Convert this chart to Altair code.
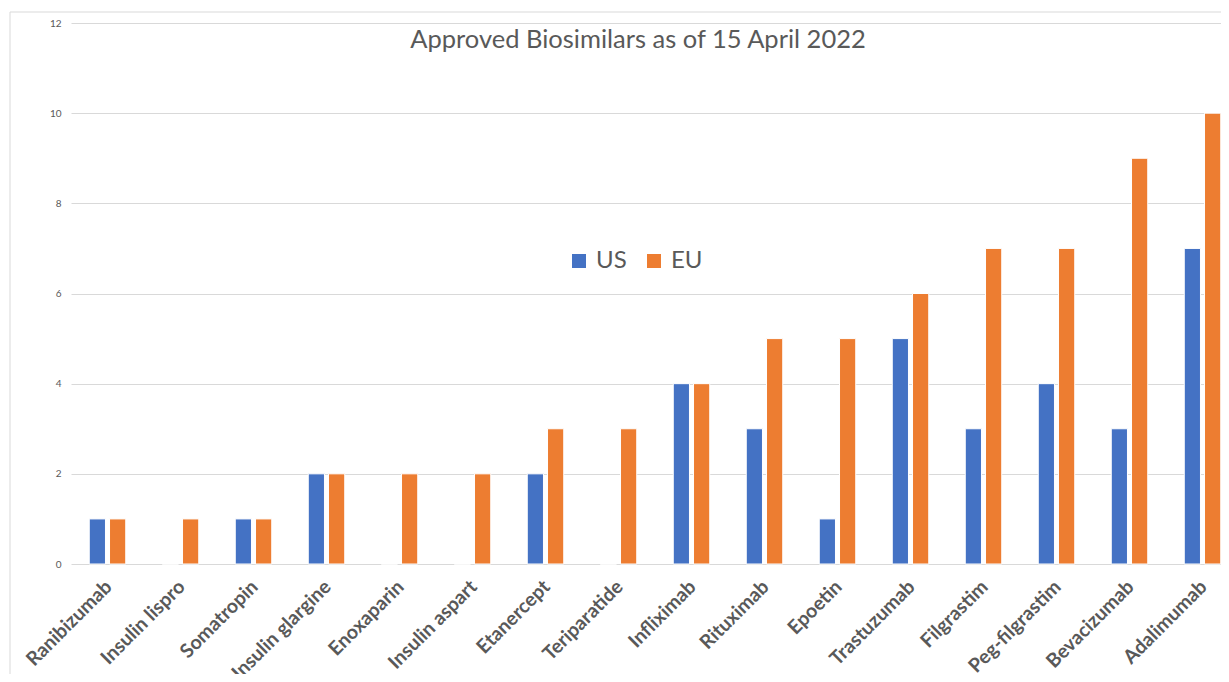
import altair as alt
import pandas as pd

categories = ["Ranibizumab", "Insulin lispro", "Somatropin", "Insulin glargine",
              "Enoxaparin", "Insulin aspart", "Etanercept", "Teriparatide",
              "Infliximab", "Rituximab", "Epoetin", "Trastuzumab", "Filgrastim",
              "Peg-filgrastim", "Bevacizumab", "Adalimumab"]
us_values = [1, 0, 1, 2, 0, 0, 2, 0, 4, 3, 1, 5, 3, 4, 3, 7]
eu_values = [1, 1, 1, 2, 2, 2, 3, 3, 4, 5, 5, 6, 7, 7, 9, 10]
series = ["US", "EU"]
colors = ["#4472C4", "#ED7D31"]
title_text = "Approved Biosimilars as of 15 April 2022"

rows = []
for c, u, e in zip(categories, us_values, eu_values):
    rows.append({"drug": c, "region": "US", "count": u})
    rows.append({"drug": c, "region": "EU", "count": e})
df = pd.DataFrame(rows)

W, H = 1150, 541
FONT = "Lato"

bars = alt.Chart(df).mark_bar(stroke="white", strokeWidth=1).encode(
    x=alt.X("drug:N", sort=categories, title=None,
            scale=alt.Scale(paddingInner=0.5, paddingOuter=0.25, range=[0, 1168]),
            axis=alt.Axis(labelAngle=-45, labelFont=FONT, labelFontWeight="bold",
                          labelFontSize=19.5, labelColor="#595959", labelPadding=13,
                          labelOffset=-5,
                          domain=False, ticks=False, labelLimit=300)),
    xOffset=alt.XOffset("region:N", sort=series,
                        scale=alt.Scale(paddingInner=0.2, paddingOuter=0)),
    y=alt.Y("count:Q", title=None,
            scale=alt.Scale(domain=[0, 12]),
            axis=alt.Axis(values=[0, 2, 4, 6, 8, 10, 12], labelFont=FONT,
                          labelFontSize=10, labelColor="#595959", labelPadding=10,
                          domain=False, ticks=False, gridColor="#d9d9d9",
                          minExtent=20)),
    color=alt.Color("region:N", sort=series,
                    scale=alt.Scale(domain=series, range=colors),
                    legend=alt.Legend(title=None, orient="none", direction="horizontal",
                                      legendX=496, legendY=226, symbolType="square",
                                      symbolSize=196, symbolStrokeWidth=0,
                                      labelFont=FONT, labelFontSize=24,
                                      labelColor="#595959", columnPadding=15,
                                      labelOffset=5)),
)

title = alt.Chart(pd.DataFrame({"t": [title_text]})).mark_text(
    font=FONT, fontSize=25.5, color="#595959", align="center", baseline="middle"
).encode(x=alt.value(567), y=alt.value(17), text="t:N")

frame_left = alt.Chart(pd.DataFrame({"k": [0]})).mark_rule(
    color="#d9d9d9", strokeWidth=1
).encode(x=alt.value(-61), y=alt.value(-11), y2=alt.value(700))

frame_top = alt.Chart(pd.DataFrame({"k": [0]})).mark_rule(
    color="#d9d9d9", strokeWidth=1
).encode(y=alt.value(-11), x=alt.value(-61), x2=alt.value(1300))

chart = alt.layer(frame_left, frame_top, bars, title).properties(
    width=W, height=H,
    autosize=alt.AutoSizeParams(type="none"),
    padding={"left": 63, "top": 15, "right": 0, "bottom": 110},
).configure_view(stroke=None).configure_axis(gridColor="#d9d9d9")

chart.save("out.html", embed_options={"renderer": "svg", "actions": False})
